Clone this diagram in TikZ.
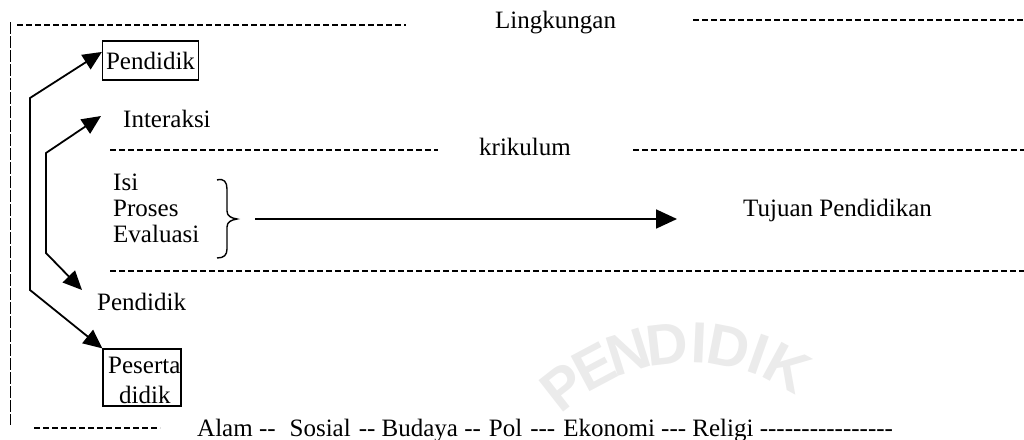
\documentclass[tikz,border=0pt]{standalone}
\usepackage{fontspec}
\setmainfont{Liberation Serif}[Ligatures=TeXOff]
\newfontfamily\stampfont{Liberation Sans}[Ligatures=TeXOff]
\usetikzlibrary{arrows.meta}

\begin{document}
\begin{tikzpicture}[
  x=1pt, y=-1pt,
  font=\fontsize{25}{28}\selectfont,
  guide/.style={line width=1.1pt, dash pattern=on 6pt off 3pt},
  frameline/.style={line width=1pt, dash pattern=on 12pt off 2pt},
  bothlink/.style={line width=1.8pt, {Triangle[length=19pt,width=17pt]}-{Triangle[length=19pt,width=17pt]}},
  word/.style={inner sep=0pt, anchor=base west},
  framed/.style={draw, line width=1.2pt, inner sep=0pt},
  stamp/.style={text=black!8, font=\stampfont\bfseries\fontsize{58}{58}\selectfont, inner sep=0pt}
]
\useasboundingbox (0,0) rectangle (1024,439);

% faint circular stamp behind the drawing
\foreach \ch/\ang [count=\i] in {P/-38,E/-28,N/-17.5,D/-6.5,I/2.5,D/11,I/19.5,K/28.5}{
  \node[stamp, rotate=-\ang] (stamp\i) at ({690+205*sin(\ang)},{548-205*cos(\ang)}) {\ch};
}

% outer frame: Lingkungan
\draw[frameline] (10,22) -- (10,425);
\draw[guide] (17,25) -- (406,25);
\node[word] (lingk) at (495,28) {Lingkungan};
\draw[guide] (693,20) -- (1024,20);

% actors
\node[framed, minimum width=96pt, minimum height=39pt] (pend) at (150.5,60.5) {Pendidik};
\node[word] (inter) at (123,127) {Interaksi};
\node[word] (pend2) at (97,310) {Pendidik};
\node[framed, minimum width=78pt, minimum height=57pt] (pes) at (142,377.5) {};
\node[word] (pesA) at (108,373) {Peserta};
\node[word] (pesB) at (119,403) {didik};

% curriculum band
\draw[guide] (110,150) -- (438,150);
\node[word] (krik) at (479,155) {krikulum};
\draw[guide] (633,150) -- (1024,150);
\draw[guide] (110,271) -- (1024,271);

\node[word] (isi) at (113,190) {Isi};
\node[word] (proses) at (113,216) {Proses};
\node[word] (eval) at (113,242) {Evaluasi};

% brace grouping the three items
\draw[line width=1.4pt] (217,180) .. controls (224,178) and (227,182) .. (227,189)
  -- (227,211) .. controls (227,216) and (231,218) .. (237,219)
  .. controls (231,220) and (227,222) .. (227,227)
  -- (227,249) .. controls (227,255) and (224,258) .. (217,258);

\coordinate (goalfrom) at (255,219);
\coordinate (goalto) at (677,219);
\node[word] (tujuan) at (743,216) {Tujuan Pendidikan};
\draw[line width=1.8pt, -{Triangle[length=21pt,width=19pt]}] (goalfrom) -- (goalto);

% interaction paths
\coordinate (oa) at (30,98);
\coordinate (ob) at (30,290);
\draw[bothlink] (pend.170) -- (oa) -- (ob) -- (pes.north west);

\coordinate (ia) at (46,153);
\coordinate (ib) at (46,253);
\coordinate (itop) at (101,116);
\coordinate (ibot) at (82,290);
\draw[bothlink] (itop) -- (ia) -- (ib) -- (ibot);

% bottom row: Alam
\draw[guide] (34,428) -- (160,428);
\node[word] (alam) at (197,436) {Alam --\hspace{14pt}Sosial\hspace{8pt}-- Budaya --\hspace{8pt}Pol\hspace{8pt}---\hspace{8pt}Ekonomi --- Religi ----------------};
\end{tikzpicture}
\end{document}
